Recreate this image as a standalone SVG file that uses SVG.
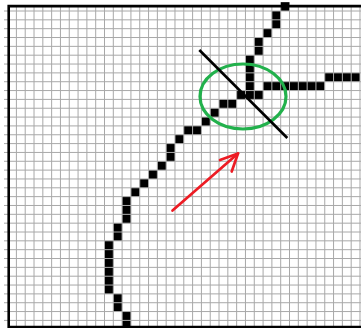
<svg xmlns="http://www.w3.org/2000/svg" width="361" height="328" viewBox="0 0 361 328">
<defs>
<style>
.grid{stroke:#a8a8a8;stroke-width:1;fill:none}
.cell{fill:#000}
.frame{stroke:#000;fill:none;stroke-width:2.6}
</style>
<rect id="c" width="8.81" height="8.84"/>
</defs>
<rect width="361" height="328" fill="#fff"/>
<g id="cells" class="cell">
<use href="#c" x="280.70" y="2.16"/>
<use href="#c" x="271.89" y="11.00"/>
<use href="#c" x="271.89" y="19.84"/>
<use href="#c" x="263.08" y="28.68"/>
<use href="#c" x="254.27" y="37.52"/>
<use href="#c" x="254.27" y="46.36"/>
<use href="#c" x="245.46" y="55.20"/>
<use href="#c" x="245.46" y="64.04"/>
<use href="#c" x="245.46" y="72.88"/>
<use href="#c" x="245.46" y="81.72"/>
<use href="#c" x="245.46" y="90.56"/>
<use href="#c" x="254.27" y="90.56"/>
<use href="#c" x="236.65" y="90.56"/>
<use href="#c" x="263.08" y="81.72"/>
<use href="#c" x="271.89" y="81.72"/>
<use href="#c" x="280.70" y="81.72"/>
<use href="#c" x="289.51" y="81.72"/>
<use href="#c" x="298.32" y="81.72"/>
<use href="#c" x="307.13" y="81.72"/>
<use href="#c" x="315.94" y="81.72"/>
<use href="#c" x="324.75" y="72.88"/>
<use href="#c" x="333.56" y="72.88"/>
<use href="#c" x="342.37" y="72.88"/>
<use href="#c" x="351.18" y="72.88"/>
<use href="#c" x="219.03" y="99.40"/>
<use href="#c" x="227.84" y="99.40"/>
<use href="#c" x="210.22" y="108.24"/>
<use href="#c" x="201.41" y="117.08"/>
<use href="#c" x="183.79" y="125.92"/>
<use href="#c" x="192.60" y="125.92"/>
<use href="#c" x="174.98" y="134.76"/>
<use href="#c" x="166.17" y="143.60"/>
<use href="#c" x="166.17" y="152.44"/>
<use href="#c" x="157.36" y="161.28"/>
<use href="#c" x="148.55" y="170.12"/>
<use href="#c" x="139.74" y="178.96"/>
<use href="#c" x="130.93" y="187.80"/>
<use href="#c" x="122.12" y="196.64"/>
<use href="#c" x="122.12" y="205.48"/>
<use href="#c" x="122.12" y="214.32"/>
<use href="#c" x="113.31" y="223.16"/>
<use href="#c" x="113.31" y="232.00"/>
<use href="#c" x="104.50" y="240.84"/>
<use href="#c" x="104.50" y="249.68"/>
<use href="#c" x="104.50" y="258.52"/>
<use href="#c" x="104.50" y="267.36"/>
<use href="#c" x="104.50" y="276.20"/>
<use href="#c" x="104.50" y="285.04"/>
<use href="#c" x="113.31" y="293.88"/>
<use href="#c" x="113.31" y="302.72"/>
<use href="#c" x="122.12" y="311.56"/>
<use href="#c" x="122.12" y="320.40"/>
</g>
<g id="grid" class="grid">
<path d="M16.4 6V327M25.21 6V327M34.02 6V327M42.83 6V327M51.64 6V327M60.45 6V327M69.26 6V327M78.07 6V327M86.88 6V327M95.69 6V327M104.5 6V327M113.31 6V327M122.12 6V327M130.93 6V327M139.74 6V327M148.55 6V327M157.36 6V327M166.17 6V327M174.98 6V327M183.79 6V327M192.6 6V327M201.41 6V327M210.22 6V327M219.03 6V327M227.84 6V327M236.65 6V327M245.46 6V327M254.27 6V327M263.08 6V327M271.89 6V327M280.7 6V327M289.51 6V327M298.32 6V327M307.13 6V327M315.94 6V327M324.75 6V327M333.56 6V327M342.37 6V327M351.18 6V327M359.99 6V327"/>
<path d="M4 11H361M4 19.84H361M4 28.68H361M4 37.52H361M4 46.36H361M4 55.2H361M4 64.04H361M4 72.88H361M4 81.72H361M4 90.56H361M4 99.4H361M4 108.24H361M4 117.08H361M4 125.92H361M4 134.76H361M4 143.6H361M4 152.44H361M4 161.28H361M4 170.12H361M4 178.96H361M4 187.8H361M4 196.64H361M4 205.48H361M4 214.32H361M4 223.16H361M4 232H361M4 240.84H361M4 249.68H361M4 258.52H361M4 267.36H361M4 276.2H361M4 285.04H361M4 293.88H361M4 302.72H361M4 311.56H361M4 320.4H361"/>
</g>
<g id="frame" class="frame">
<path d="M361 6.1H8.7V327H361"/>
</g>
<g id="annotations">
<ellipse cx="243" cy="96.5" rx="43" ry="32.5" fill="none" stroke="#22b14c" stroke-width="3.2"/>
<line x1="199.3" y1="50" x2="287.3" y2="138" stroke="#000" stroke-width="2.6"/>
<g id="arrow" stroke="#ed1c24" stroke-width="2.7" fill="none" stroke-linecap="round" stroke-linejoin="round">
<line x1="172.5" y1="210.5" x2="238" y2="153.5"/>
<path d="M220 160L238 153.5L231.7 171.5"/>
</g>
</g>
</svg>
